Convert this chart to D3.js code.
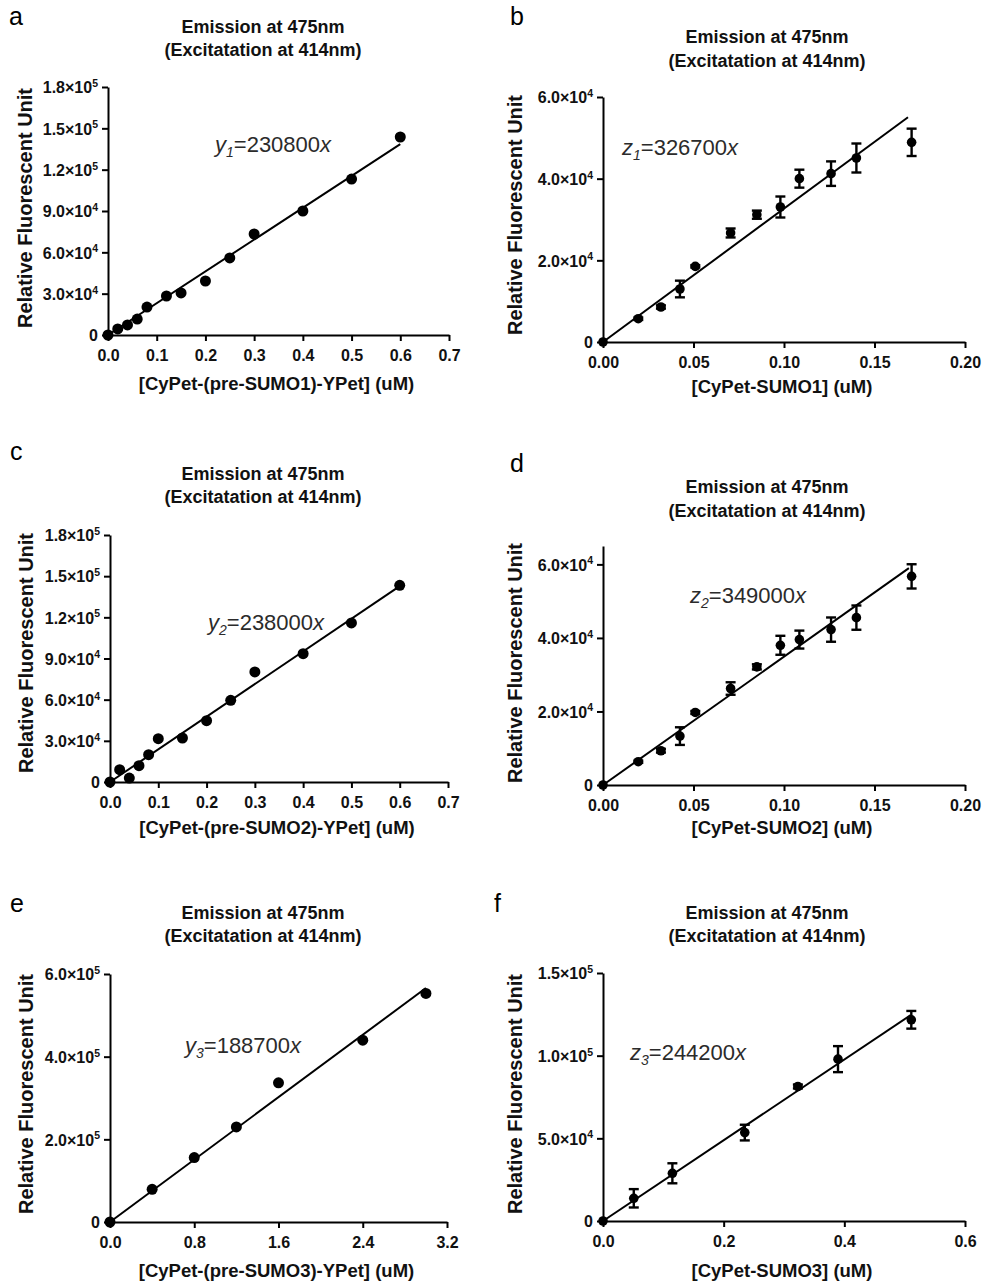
<!DOCTYPE html>
<html><head><meta charset="utf-8">
<script src="https://cdn.jsdelivr.net/npm/d3@7"></script>
<style>
html,body{margin:0;padding:0;background:#fff;}
svg text{font-family:"Liberation Sans",Arial,Helvetica,sans-serif;}
</style></head><body>
<svg id="fig" width="988" height="1283"></svg>
<script>
// ---- measured standards: concentration (uM) vs relative fluorescence ----
const concA = [0, 0.02, 0.04, 0.06, 0.08, 0.12, 0.15, 0.2, 0.25, 0.3, 0.4, 0.5, 0.6];
const rfuA  = [0, 4400, 7300, 11600, 20300, 28300, 30500, 39200, 55900, 73300, 90000, 113200, 143700];

const concB = [0, 0.0195, 0.032, 0.0425, 0.051, 0.0705, 0.085, 0.098, 0.1085, 0.126, 0.14, 0.1705];
const rfuB  = [0, 5700, 8570, 12980, 18530, 26700, 31180, 33060, 40000, 41230, 45060, 48900];
const errB  = [0, 300, 400, 2040, 300, 1100, 1000, 2570, 2200, 3000, 3550, 3350];

const concC = [0, 0.02, 0.04, 0.06, 0.08, 0.1, 0.15, 0.2, 0.25, 0.3, 0.4, 0.5, 0.6];
const rfuC  = [0, 9000, 2900, 11900, 19900, 31600, 32060, 44700, 59500, 80200, 93500, 115900, 143300];

const concD = [0, 0.0195, 0.032, 0.0425, 0.051, 0.0705, 0.085, 0.098, 0.1085, 0.126, 0.14, 0.1705];
const rfuD  = [0, 6330, 9320, 13300, 19730, 26240, 32130, 38000, 39550, 42260, 45520, 56740];
const errD  = [0, 300, 500, 2400, 400, 1700, 700, 2580, 2440, 3300, 3300, 3300];

const concE = [0, 0.4, 0.8, 1.2, 1.6, 2.4, 3.0];
const rfuE  = [0, 79100, 155800, 230100, 336700, 440000, 553100];

const concF = [0, 0.051, 0.115, 0.235, 0.323, 0.3895, 0.511];
const rfuF  = [0, 13730, 28860, 53480, 81350, 97900, 121700];
const errF  = [0, 5550, 6050, 4740, 1200, 7870, 5350];

// linear fits through the origin: slope and last x of the drawn fit
const fitSlopes = [230800, 326700, 238000, 349000, 188700, 244200];
const fitEnds   = [0.6, 0.1685, 0.6, 0.169, 3.0, 0.51];
const fitVars   = ["y", "z", "y", "z", "y", "z"];
const fitSubs   = ["1", "1", "2", "2", "3", "3"];

// axes
const xTicksPre  = [0, 0.1, 0.2, 0.3, 0.4, 0.5, 0.6, 0.7];
const xTicksSumo = [0, 0.05, 0.1, 0.15, 0.2];
const xTicksE    = [0, 0.8, 1.6, 2.4, 3.2];
const xTicksF    = [0, 0.2, 0.4, 0.6];
const yTicksPre  = [0, 30000, 60000, 90000, 120000, 150000, 180000];
const yTicksSumo = [0, 20000, 40000, 60000];
const yTicksE    = [0, 200000, 400000, 600000];
const yTicksF    = [0, 50000, 100000, 150000];

const panelLetters = ["a", "b", "c", "d", "e", "f"];
const titleLines = ["Emission at 475nm", "(Excitatation at 414nm)"];
const yTitle = "Relative Fluorescent Unit";
const xTitles = [
  "[CyPet-(pre-SUMO1)-YPet] (uM)", "[CyPet-SUMO1] (uM)",
  "[CyPet-(pre-SUMO2)-YPet] (uM)", "[CyPet-SUMO2] (uM)",
  "[CyPet-(pre-SUMO3)-YPet] (uM)", "[CyPet-SUMO3] (uM)"
];

const series = [
  {x: concA, y: rfuA, err: null, xTicks: xTicksPre,  yTicks: yTicksPre,  xMax: 0.7, yMax: 180000, xDec: 1},
  {x: concB, y: rfuB, err: errB, xTicks: xTicksSumo, yTicks: yTicksSumo, xMax: 0.2, yMax: 60000,  xDec: 2},
  {x: concC, y: rfuC, err: null, xTicks: xTicksPre,  yTicks: yTicksPre,  xMax: 0.7, yMax: 180000, xDec: 1},
  {x: concD, y: rfuD, err: errD, xTicks: xTicksSumo, yTicks: yTicksSumo, xMax: 0.2, yMax: 65000,  xDec: 2},
  {x: concE, y: rfuE, err: null, xTicks: xTicksE,    yTicks: yTicksE,    xMax: 3.2, yMax: 600000, xDec: 1},
  {x: concF, y: rfuF, err: errF, xTicks: xTicksF,    yTicks: yTicksF,    xMax: 0.6, yMax: 150000, xDec: 1}
];

// page layout of each panel (pixels)
const layout = [
  {x0: 108, x1: 449, y0: 335,  yTop: 87,  letter: [9, 25],     tx: 263, ty: [33, 56],   xl: 390,  yl: [32, 208],   eq: [215, 152], r: 5.5},
  {x0: 603, x1: 965, y0: 342,  yTop: 97,  letter: [510, 25],   tx: 767, ty: [43, 67],   xl: 393,  yl: [522, 215],  eq: [622, 155], r: 4.8},
  {x0: 110, x1: 448, y0: 782,  yTop: 535, letter: [10, 460],   tx: 263, ty: [480, 503], xl: 834,  yl: [33, 653],   eq: [208, 630], r: 5.5},
  {x0: 603, x1: 965, y0: 785,  yTop: 546, letter: [510, 472],  tx: 767, ty: [493, 517], xl: 834,  yl: [522, 663],  eq: [690, 603], r: 4.8},
  {x0: 110, x1: 447, y0: 1222, yTop: 974, letter: [10, 912],   tx: 263, ty: [919, 942], xl: 1277, yl: [33, 1094],  eq: [185, 1053], r: 5.5},
  {x0: 603, x1: 965, y0: 1221, yTop: 973, letter: [494, 912],  tx: 767, ty: [919, 942], xl: 1277, yl: [522, 1094], eq: [630, 1060], r: 4.8}
];

const fig = d3.select("#fig");
const INK = "#000";

function sciParts(v) {
  if (v === 0) return null;
  const e = Math.floor(Math.log10(v));
  return {m: (v / Math.pow(10, e)).toFixed(1), e: String(e)};
}

series.forEach((s, i) => {
  const L = layout[i];
  const g = fig.append("g");
  const x = d3.scaleLinear().domain([0, s.xMax]).range([L.x0, L.x1]);
  const y = d3.scaleLinear().domain([0, s.yMax]).range([L.y0, L.yTop]);

  // panel letter
  g.append("text").attr("x", L.letter[0]).attr("y", L.letter[1])
    .attr("font-size", 25).attr("fill", INK).text(panelLetters[i]);

  // two-line title
  titleLines.forEach((t, k) => {
    g.append("text").attr("x", L.tx).attr("y", L.ty[k])
      .attr("text-anchor", "middle").attr("font-size", 18).attr("font-weight", "bold")
      .attr("fill", "#111").text(t);
  });

  // x axis
  const gx = g.append("g").attr("transform", `translate(0,${L.y0})`)
    .call(d3.axisBottom(x).tickValues(s.xTicks).tickSize(6).tickSizeOuter(0)
      .tickFormat(d3.format(`.${s.xDec}f`)));
  gx.select(".domain").attr("stroke", INK).attr("stroke-width", 2);
  gx.selectAll(".tick line").attr("stroke", INK).attr("stroke-width", 2);
  gx.selectAll(".tick text").attr("y", 15).attr("dy", "0.71em")
    .attr("font-size", 16).attr("font-weight", "bold").attr("fill", "#111")
    .style("font-family", '"Liberation Sans",Arial,sans-serif');

  // y axis with ×10^n labels
  const gy = g.append("g").attr("transform", `translate(${L.x0},0)`)
    .call(d3.axisLeft(y).tickValues(s.yTicks).tickSize(6).tickSizeOuter(0).tickFormat(""));
  gy.select(".domain").attr("stroke", INK).attr("stroke-width", 2);
  gy.selectAll(".tick line").attr("stroke", INK).attr("stroke-width", 2);
  gy.selectAll(".tick").each(function(d) {
    const t = d3.select(this).select("text")
      .attr("x", -10).attr("dy", "0.36em").attr("text-anchor", "end")
      .attr("font-size", 16).attr("font-weight", "bold").attr("fill", "#111")
      .style("font-family", '"Liberation Sans",Arial,sans-serif');
    const p = sciParts(d);
    if (!p) { t.text("0"); return; }
    t.append("tspan").text(`${p.m}×10`);
    t.append("tspan").attr("font-size", 10.5).attr("dy", "-0.6em").text(p.e);
  });

  // axis titles
  g.append("text").attr("x", (L.x0 + L.x1) / 2 - 2).attr("y", L.xl)
    .attr("text-anchor", "middle").attr("font-size", 18.5).attr("font-weight", "bold")
    .attr("fill", "#111").text(xTitles[i]);
  g.append("text").attr("transform", `translate(${L.yl[0]},${L.yl[1]}) rotate(-90)`)
    .attr("text-anchor", "middle").attr("font-size", 20).attr("font-weight", "bold")
    .attr("fill", "#111").text(yTitle);

  // fitted line through the origin
  const fitPts = [[0, 0], [fitEnds[i], fitSlopes[i] * fitEnds[i]]];
  g.append("path").datum(fitPts)
    .attr("d", d3.line().x(d => x(d[0])).y(d => y(d[1])))
    .attr("fill", "none").attr("stroke", INK).attr("stroke-width", 2);

  const pts = s.x.map((cx, k) => ({cx, v: s.y[k], e: s.err ? s.err[k] : 0}));

  // error bars (mean ± SD)
  if (s.err) {
    const eb = g.append("g").attr("stroke", INK).attr("stroke-width", 2.4);
    pts.filter(d => d.e > 0).forEach(d => {
      const px = x(d.cx);
      eb.append("line").attr("x1", px).attr("x2", px).attr("y1", y(d.v - d.e)).attr("y2", y(d.v + d.e));
      [d.v - d.e, d.v + d.e].forEach(w => {
        eb.append("line").attr("x1", px - 5).attr("x2", px + 5).attr("y1", y(w)).attr("y2", y(w));
      });
    });
  }

  // data points
  g.append("g").selectAll("circle").data(pts).join("circle")
    .attr("cx", d => x(d.cx)).attr("cy", d => y(d.v)).attr("r", L.r).attr("fill", INK);

  // fit equation
  const eq = g.append("text").attr("x", L.eq[0]).attr("y", L.eq[1])
    .attr("font-size", 22).attr("fill", "#2b2b2b");
  eq.append("tspan").attr("font-style", "italic").text(fitVars[i]);
  eq.append("tspan").attr("font-style", "italic").attr("font-size", 14).attr("dy", 5).text(fitSubs[i]);
  eq.append("tspan").attr("dy", -5).text(`=${fitSlopes[i]}`);
  eq.append("tspan").attr("font-style", "italic").text("x");
});
</script>
</body></html>
